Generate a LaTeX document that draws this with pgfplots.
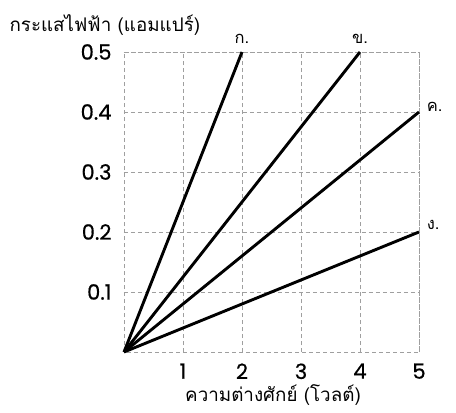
\documentclass[border=0pt]{standalone}
\usepackage{fontspec}
\setmainfont[Script=Thai]{Loma}
\newfontfamily\numfont[FakeBold=0.6]{Poppins}
\usepackage{pgfplots}
\pgfplotsset{compat=1.18}

\begin{document}
\begin{tikzpicture}[x=1pt,y=1pt]
\path[use as bounding box] (-124,-61) rectangle (332,352);
\begin{axis}[
    at={(0,0)}, anchor=south west,
    scale only axis, width=295pt, height=300pt,
    xmin=0, xmax=5, ymin=0, ymax=0.5,
    xtick={1,2,3,4,5}, ytick={0.1,0.2,0.3,0.4,0.5},
    yticklabel style={/pgf/number format/fixed, /pgf/number format/precision=1},
    /pgf/number format/assume math mode=true,
    ticklabel style={font=\numfont\fontsize{21}{21}\selectfont},
    xticklabel style={yshift=-8pt},
    yticklabel style={xshift=-9pt},
    major tick length=0pt,
    grid=major,
    grid style={gray!75, line width=0.9pt, dash pattern=on 4pt off 3pt},
    axis line style={gray!75, line width=0.9pt, dash pattern=on 4pt off 3pt},
    clip=false,
    ]
\addplot[black, line width=2.9pt] coordinates {(0,0) (2,0.5)}
    node[pos=1, anchor=south, yshift=4pt, font=\fontsize{16.5}{16.5}\selectfont] {ก.};
\addplot[black, line width=2.9pt] coordinates {(0,0) (4,0.5)}
    node[pos=1, anchor=south, yshift=4pt, font=\fontsize{16.5}{16.5}\selectfont] {ข.};
\addplot[black, line width=2.9pt] coordinates {(0,0) (5,0.4)}
    node[pos=1, anchor=west, xshift=3pt, yshift=5pt, font=\fontsize{16.5}{16.5}\selectfont] {ค.};
\addplot[black, line width=2.9pt] coordinates {(0,0) (5,0.2)}
    node[pos=1, anchor=west, xshift=3pt, yshift=7pt, font=\fontsize{16.5}{16.5}\selectfont] {ง.};
\node[anchor=west, font=\fontsize{18.8}{18.8}\selectfont] at (axis description cs:-0.400,1.09) {กระแสไฟฟ้า (แอมแปร์)};
\node[anchor=center, font=\fontsize{18.8}{18.8}\selectfont] at (axis description cs:0.505,-0.143) {ความต่างศักย์ (โวลต์)};
\end{axis}
\end{tikzpicture}
\end{document}
